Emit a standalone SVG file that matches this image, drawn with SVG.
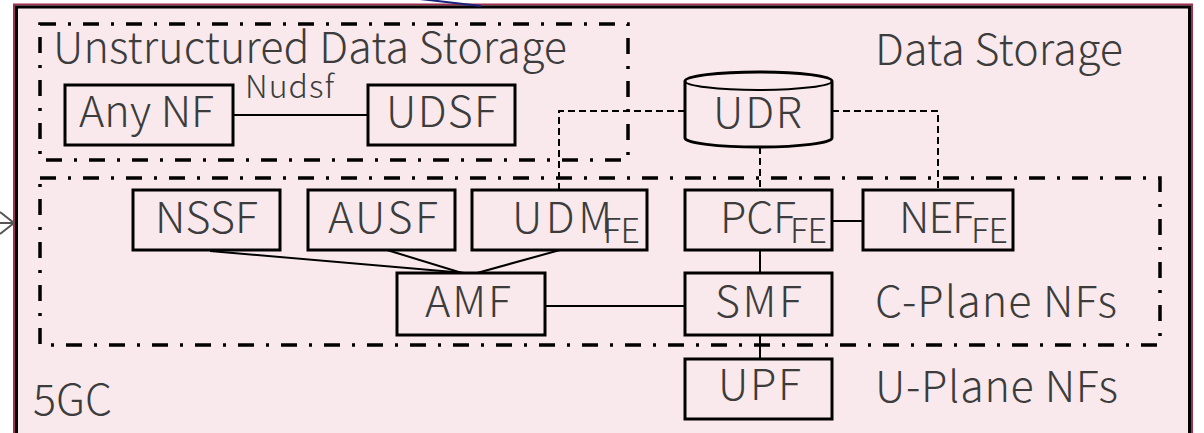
<svg xmlns="http://www.w3.org/2000/svg" width="1204" height="433" viewBox="0 0 1204 433">
<style>
.t{font-family:"Noto Sans CJK JP","Liberation Sans",sans-serif;fill:#3c3c3c;font-weight:300}
.big{font-size:43px}
.sub{font-size:34px}
.lbl{font-size:32px}
.box{fill:#f9e9ed;stroke:#000;stroke-width:3}
.grp{fill:none;stroke:#000;stroke-width:3.5;stroke-dasharray:16 12 3 12}
.ln{stroke:#000;stroke-width:2;fill:none}
.dl{stroke:#000;stroke-width:2;fill:none;stroke-dasharray:7 4}
</style>
<rect width="1204" height="433" fill="#ffffff"/>
<g id="core">
<rect x="14" y="4.5" width="1178" height="440" fill="#f9e9ed" stroke="#a0304f" stroke-width="2"/>
<rect x="16.5" y="7" width="1173" height="440" fill="#f9e9ed" stroke="#000" stroke-width="3"/>
<text class="t big" x="33" y="415" textLength="79">5GC</text>
</g>
<g id="uds-group">
<rect class="grp" x="40" y="24" width="588" height="136"/>
<text class="t big" x="53" y="63" textLength="514">Unstructured Data Storage</text>
</g>
<g id="ds-label"><text class="t big" x="875" y="65" textLength="248">Data Storage</text></g>
<g id="cplane-group">
<rect class="grp" x="40" y="178" width="1120" height="167"/>
<text class="t big" x="875" y="317" textLength="242">C-Plane NFs</text>
</g>
<g id="uplane-label"><text class="t big" x="875" y="402" textLength="243">U-Plane NFs</text></g>
<g id="connectors">
<line class="ln" x1="233" y1="115" x2="368" y2="115"/>
<text class="t lbl" x="245" y="98" textLength="89">Nudsf</text>
<polyline class="dl" points="685,111 559,111 559,190"/>
<polyline class="dl" points="832,111 938,111 938,190"/>
<line class="dl" x1="760" y1="147" x2="760" y2="190"/>
<line class="ln" x1="210" y1="251" x2="465" y2="273"/>
<line class="ln" x1="387" y1="250" x2="462" y2="273"/>
<line class="ln" x1="560" y1="250" x2="477" y2="273"/>
<line class="ln" x1="545" y1="306" x2="685" y2="306"/>
<line class="ln" x1="832" y1="221" x2="863" y2="221"/>
<line class="ln" x1="760" y1="250" x2="760" y2="273"/>
<line class="ln" x1="760" y1="335" x2="760" y2="359"/>
<line x1="420" y1="-1" x2="481" y2="6" stroke="#1a237e" stroke-width="2"/>
<path d="M0,212 L14,223 L0,234 M0,223 L14,223" fill="none" stroke="#555" stroke-width="2"/>
</g>
<g id="anynf"><rect class="box" x="65" y="85" width="168" height="60"/><text class="t big" x="79" y="127" textLength="135">Any NF</text></g>
<g id="udsf"><rect class="box" x="368" y="85" width="147" height="60"/><text class="t big" x="386" y="127" textLength="111">UDSF</text></g>
<g id="udr">
<path d="M685,81 A73.5,9 0 0 1 832,81 L832,138 A73.5,9 0 0 1 685,138 Z" class="box"/>
<path d="M685,81 A73.5,9 0 0 0 832,81" class="ln" stroke-width="3"/>
<text class="t big" x="713" y="128" textLength="89">UDR</text>
</g>
<g id="nssf"><rect class="box" x="133" y="190" width="147" height="60"/><text class="t big" x="155" y="233" textLength="103">NSSF</text></g>
<g id="ausf"><rect class="box" x="308" y="190" width="147" height="60"/><text class="t big" x="328" y="233" textLength="110">AUSF</text></g>
<g id="udm"><rect class="box" x="472" y="190" width="175" height="60"/><text class="t big" x="512" y="233" textLength="100">UDM</text><text class="t sub" x="603" y="243" textLength="37">FE</text></g>
<g id="pcf"><rect class="box" x="685" y="190" width="147" height="60"/><text class="t big" x="720" y="233" textLength="76">PCF</text><text class="t sub" x="790" y="243" textLength="37">FE</text></g>
<g id="nef"><rect class="box" x="863" y="190" width="150" height="60"/><text class="t big" x="899" y="233" textLength="76">NEF</text><text class="t sub" x="971" y="243" textLength="37">FE</text></g>
<g id="amf"><rect class="box" x="397" y="273" width="148" height="62"/><text class="t big" x="425" y="317" textLength="86">AMF</text></g>
<g id="smf"><rect class="box" x="685" y="273" width="147" height="62"/><text class="t big" x="715" y="317" textLength="87">SMF</text></g>
<g id="upf"><rect class="box" x="685" y="359" width="147" height="60"/><text class="t big" x="718" y="400" textLength="83">UPF</text></g>
</svg>
